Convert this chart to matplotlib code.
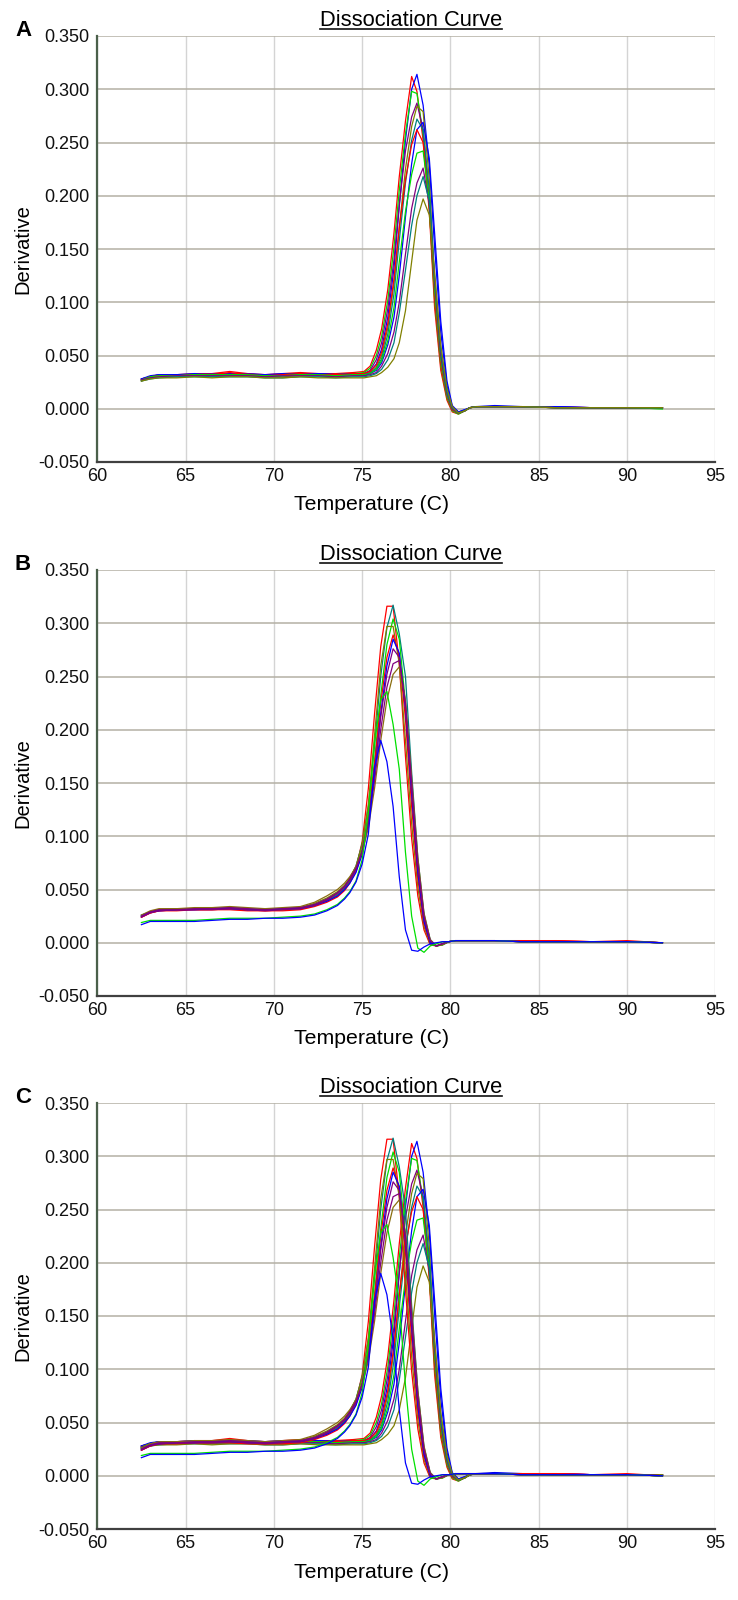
import matplotlib
matplotlib.use("Agg")
import matplotlib.pyplot as plt
from matplotlib.lines import Line2D
from matplotlib.transforms import offset_copy

plt.rcParams['font.family'] = ['Liberation Sans', 'DejaVu Sans']

# ---- panel A: melt curves, shared temperature grid (C)
temp_a = [62.5, 63.0, 63.5, 64.5, 65.5, 66.5, 67.5, 68.5, 69.5, 70.5, 71.5, 72.5, 73.5, 74.5,
          75.1, 75.45, 75.8, 76.1, 76.45, 76.8, 77.1, 77.45, 77.8, 78.1, 78.45, 78.8, 79.1, 79.45,
          79.8, 80.1, 80.45, 80.8, 81.1, 81.5,
          82.5, 84.0, 86.0, 88.0, 90.0, 92.0]

a_red1 = [0.028, 0.030, 0.032, 0.032, 0.033, 0.033, 0.035, 0.033, 0.032, 0.033, 0.034, 0.033, 0.033, 0.034,
          0.035, 0.040, 0.055, 0.075, 0.112, 0.165, 0.218, 0.270, 0.312, 0.298, 0.252, 0.185, 0.095, 0.036,
          0.008, -0.003, -0.005, -0.002, 0.001, 0.002,
          0.002, 0.002, 0.002, 0.001, 0.001, 0.001]
a_blue1 = [0.028, 0.031, 0.032, 0.032, 0.033, 0.032, 0.033, 0.033, 0.032, 0.033, 0.033, 0.033, 0.032, 0.033,
           0.033, 0.035, 0.042, 0.056, 0.086, 0.132, 0.190, 0.252, 0.300, 0.314, 0.285, 0.228, 0.152, 0.072,
           0.022, 0.002, -0.003, -0.001, 0.001, 0.002,
           0.003, 0.002, 0.002, 0.001, 0.001, 0.001]
a_green1 = [0.027, 0.030, 0.031, 0.031, 0.032, 0.032, 0.033, 0.032, 0.031, 0.032, 0.033, 0.032, 0.032, 0.033,
            0.034, 0.038, 0.050, 0.068, 0.102, 0.152, 0.205, 0.258, 0.298, 0.296, 0.258, 0.190, 0.102, 0.040,
            0.010, -0.002, -0.005, -0.002, 0.001, 0.002,
            0.002, 0.002, 0.001, 0.001, 0.001, 0.000]
a_purple1 = [0.027, 0.030, 0.031, 0.032, 0.032, 0.033, 0.033, 0.033, 0.031, 0.032, 0.033, 0.032, 0.032, 0.033,
             0.033, 0.036, 0.046, 0.062, 0.094, 0.140, 0.192, 0.242, 0.274, 0.287, 0.262, 0.195, 0.108, 0.044,
             0.012, -0.001, -0.004, -0.002, 0.001, 0.002,
             0.002, 0.002, 0.001, 0.001, 0.001, 0.001]
a_olive1 = [0.026, 0.029, 0.030, 0.030, 0.031, 0.030, 0.031, 0.031, 0.030, 0.030, 0.031, 0.031, 0.030, 0.031,
            0.031, 0.033, 0.039, 0.050, 0.076, 0.118, 0.170, 0.225, 0.265, 0.284, 0.279, 0.215, 0.120, 0.050,
            0.014, 0.000, -0.004, -0.002, 0.001, 0.002,
            0.002, 0.002, 0.001, 0.001, 0.001, 0.001]
a_teal1 = [0.027, 0.029, 0.030, 0.031, 0.031, 0.031, 0.032, 0.031, 0.030, 0.031, 0.032, 0.031, 0.031, 0.032,
           0.032, 0.034, 0.038, 0.047, 0.070, 0.108, 0.158, 0.212, 0.252, 0.272, 0.262, 0.205, 0.118, 0.048,
           0.013, 0.000, -0.004, -0.002, 0.001, 0.002,
           0.002, 0.002, 0.001, 0.001, 0.001, 0.001]
a_blue2 = [0.028, 0.030, 0.032, 0.032, 0.032, 0.032, 0.033, 0.032, 0.032, 0.032, 0.033, 0.033, 0.032, 0.033,
           0.032, 0.033, 0.036, 0.043, 0.060, 0.086, 0.125, 0.180, 0.230, 0.262, 0.269, 0.235, 0.165, 0.082,
           0.026, 0.003, -0.003, -0.001, 0.001, 0.002,
           0.002, 0.002, 0.002, 0.001, 0.001, 0.001]
a_red2 = [0.027, 0.030, 0.031, 0.031, 0.032, 0.032, 0.034, 0.032, 0.031, 0.032, 0.033, 0.032, 0.032, 0.033,
          0.033, 0.035, 0.041, 0.053, 0.080, 0.122, 0.170, 0.215, 0.248, 0.262, 0.250, 0.190, 0.105, 0.042,
          0.011, -0.001, -0.004, -0.002, 0.001, 0.002,
          0.002, 0.002, 0.001, 0.001, 0.001, 0.001]
a_green2 = [0.027, 0.030, 0.031, 0.031, 0.032, 0.032, 0.032, 0.032, 0.031, 0.031, 0.032, 0.032, 0.031, 0.032,
            0.032, 0.033, 0.037, 0.045, 0.064, 0.095, 0.138, 0.185, 0.220, 0.240, 0.242, 0.195, 0.112, 0.046,
            0.012, 0.000, -0.004, -0.002, 0.001, 0.002,
            0.002, 0.002, 0.001, 0.001, 0.001, 0.000]
a_purple2 = [0.027, 0.029, 0.030, 0.031, 0.031, 0.031, 0.031, 0.031, 0.030, 0.031, 0.031, 0.031, 0.030, 0.031,
             0.031, 0.032, 0.034, 0.040, 0.052, 0.072, 0.100, 0.145, 0.188, 0.212, 0.226, 0.192, 0.120, 0.050,
             0.014, 0.000, -0.004, -0.002, 0.001, 0.002,
             0.002, 0.002, 0.001, 0.001, 0.001, 0.001]
a_teal2 = [0.026, 0.028, 0.029, 0.030, 0.030, 0.030, 0.030, 0.030, 0.029, 0.029, 0.030, 0.030, 0.029, 0.030,
           0.030, 0.031, 0.033, 0.037, 0.046, 0.062, 0.090, 0.130, 0.172, 0.200, 0.218, 0.195, 0.126, 0.055,
           0.016, 0.001, -0.004, -0.002, 0.001, 0.002,
           0.002, 0.002, 0.001, 0.001, 0.001, 0.001]
a_olive2 = [0.026, 0.028, 0.029, 0.029, 0.030, 0.029, 0.030, 0.030, 0.029, 0.029, 0.030, 0.029, 0.029, 0.029,
            0.029, 0.030, 0.031, 0.034, 0.039, 0.047, 0.062, 0.092, 0.138, 0.177, 0.197, 0.182, 0.128, 0.060,
            0.019, 0.002, -0.004, -0.002, 0.001, 0.002,
            0.002, 0.002, 0.001, 0.001, 0.001, 0.001]

# ---- panel B
temp_b = [62.5, 63.0, 63.5, 64.5, 65.5, 66.5, 67.5, 68.5, 69.5, 70.5, 71.5,
          72.3, 73.0, 73.6, 74.0, 74.3, 74.65, 75.0, 75.35, 75.7, 76.05, 76.4, 76.75, 77.1, 77.45,
          77.8, 78.15, 78.5, 78.85, 79.2, 79.55, 79.9, 80.3, 81.0,
          82.5, 84.0, 86.0, 88.0, 90.0, 92.0]

b_red1 = [0.024, 0.028, 0.030, 0.031, 0.031, 0.031, 0.032, 0.031, 0.030, 0.031, 0.032,
          0.035, 0.039, 0.044, 0.050, 0.057, 0.070, 0.095, 0.145, 0.215, 0.278, 0.316, 0.316, 0.262, 0.175,
          0.098, 0.044, 0.012, -0.002, -0.003, -0.001, 0.001, 0.002, 0.002,
          0.002, 0.001, 0.002, 0.001, 0.001, 0.000]
b_teal1 = [0.026, 0.029, 0.031, 0.032, 0.032, 0.032, 0.033, 0.032, 0.031, 0.032, 0.033,
           0.036, 0.041, 0.047, 0.053, 0.060, 0.072, 0.093, 0.128, 0.185, 0.250, 0.296, 0.317, 0.290, 0.250,
           0.160, 0.080, 0.027, 0.003, -0.003, -0.002, 0.001, 0.002, 0.002,
           0.002, 0.001, 0.001, 0.001, 0.001, 0.000]
b_green1 = [0.025, 0.029, 0.031, 0.031, 0.032, 0.032, 0.032, 0.031, 0.031, 0.031, 0.032,
            0.035, 0.040, 0.045, 0.051, 0.058, 0.069, 0.088, 0.120, 0.170, 0.232, 0.280, 0.304, 0.285, 0.225,
            0.140, 0.068, 0.022, 0.001, -0.003, -0.002, 0.001, 0.002, 0.002,
            0.002, 0.002, 0.001, 0.001, 0.001, 0.000]
b_olive1 = [0.025, 0.029, 0.031, 0.032, 0.032, 0.032, 0.033, 0.032, 0.031, 0.032, 0.033,
            0.037, 0.042, 0.048, 0.054, 0.061, 0.072, 0.092, 0.130, 0.195, 0.260, 0.297, 0.297, 0.262, 0.190,
            0.112, 0.052, 0.015, -0.001, -0.003, -0.001, 0.001, 0.002, 0.002,
            0.002, 0.001, 0.001, 0.001, 0.001, 0.000]
b_red2 = [0.024, 0.028, 0.030, 0.030, 0.031, 0.031, 0.031, 0.030, 0.030, 0.030, 0.031,
          0.034, 0.038, 0.043, 0.049, 0.056, 0.067, 0.085, 0.118, 0.168, 0.225, 0.268, 0.289, 0.270, 0.210,
          0.128, 0.060, 0.018, 0.000, -0.003, -0.001, 0.001, 0.002, 0.002,
          0.002, 0.002, 0.002, 0.001, 0.002, 0.000]
b_blue1 = [0.025, 0.029, 0.030, 0.031, 0.031, 0.032, 0.032, 0.031, 0.031, 0.032, 0.032,
           0.035, 0.039, 0.044, 0.050, 0.056, 0.066, 0.083, 0.112, 0.158, 0.215, 0.260, 0.285, 0.272, 0.220,
           0.140, 0.066, 0.020, 0.000, -0.003, -0.001, 0.001, 0.002, 0.002,
           0.002, 0.001, 0.001, 0.001, 0.001, 0.000]
b_purple1 = [0.024, 0.028, 0.030, 0.031, 0.031, 0.031, 0.032, 0.031, 0.030, 0.031, 0.032,
             0.035, 0.040, 0.046, 0.052, 0.059, 0.069, 0.086, 0.115, 0.160, 0.212, 0.252, 0.276, 0.268, 0.222,
             0.145, 0.072, 0.024, 0.002, -0.003, -0.001, 0.001, 0.002, 0.002,
             0.002, 0.001, 0.001, 0.001, 0.001, 0.000]
b_brown = [0.026, 0.030, 0.032, 0.032, 0.033, 0.033, 0.034, 0.033, 0.032, 0.033, 0.034,
           0.038, 0.044, 0.050, 0.056, 0.062, 0.071, 0.085, 0.108, 0.145, 0.190, 0.228, 0.252, 0.259, 0.228,
           0.155, 0.080, 0.028, 0.003, -0.003, -0.002, 0.001, 0.002, 0.002,
           0.002, 0.001, 0.001, 0.001, 0.001, 0.000]
b_purple2 = [0.025, 0.029, 0.031, 0.031, 0.032, 0.032, 0.033, 0.032, 0.031, 0.032, 0.033,
             0.036, 0.041, 0.047, 0.053, 0.060, 0.070, 0.086, 0.112, 0.152, 0.200, 0.240, 0.262, 0.265, 0.225,
             0.150, 0.075, 0.025, 0.002, -0.003, -0.001, 0.001, 0.002, 0.002,
             0.002, 0.001, 0.001, 0.001, 0.001, 0.000]
b_green2 = [0.019, 0.021, 0.021, 0.021, 0.021, 0.022, 0.023, 0.023, 0.023, 0.024, 0.025,
            0.027, 0.031, 0.036, 0.042, 0.048, 0.058, 0.078, 0.122, 0.188, 0.228, 0.236, 0.205, 0.163, 0.085,
            0.025, -0.005, -0.009, -0.003, -0.001, 0.001, 0.001, 0.002, 0.002,
            0.002, 0.001, 0.001, 0.001, 0.001, 0.000]
b_blue2 = [0.017, 0.020, 0.020, 0.020, 0.020, 0.021, 0.022, 0.022, 0.023, 0.023, 0.024,
           0.026, 0.030, 0.035, 0.041, 0.047, 0.057, 0.074, 0.102, 0.165, 0.190, 0.170, 0.128, 0.062, 0.012,
           -0.007, -0.008, -0.004, -0.001, 0.000, 0.001, 0.001, 0.002, 0.002,
           0.002, 0.001, 0.001, 0.001, 0.001, 0.000]

x_ticks = [60, 65, 70, 75, 80, 85, 90, 95]
y_ticks = [-0.05, 0.0, 0.05, 0.10, 0.15, 0.20, 0.25, 0.30, 0.35]
y_tick_labels = ['-0.050', '0.000', '0.050', '0.100', '0.150', '0.200', '0.250', '0.300', '0.350']
panel_letters = ['A', 'B', 'C']
title_text = 'Dissociation Curve'
x_label = 'Temperature (C)'
y_label = 'Derivative'

RED, GREEN, BLUE = '#ff0000', '#00e000', '#0000ff'
PURPLE, TEAL, OLIVE, BROWN = '#800080', '#008080', '#808000', '#8a6e10'

curves_a = [(a_red1, RED), (a_blue1, BLUE), (a_green1, GREEN), (a_purple1, PURPLE),
            (a_olive1, OLIVE), (a_teal1, TEAL), (a_blue2, BLUE), (a_red2, RED),
            (a_green2, GREEN), (a_purple2, PURPLE), (a_teal2, TEAL), (a_olive2, OLIVE)]
curves_b = [(b_red1, RED), (b_teal1, TEAL), (b_green1, GREEN), (b_olive1, OLIVE),
            (b_red2, RED), (b_blue1, BLUE), (b_purple1, PURPLE), (b_brown, BROWN),
            (b_purple2, PURPLE), (b_green2, GREEN), (b_blue2, BLUE)]


def draw_panel(fig, ax, series, letter):
    for temps, vals, color in series:
        ax.plot(temps, vals, color=color, lw=0.9)

    ax.set_xlim(60, 95)
    ax.set_ylim(-0.05, 0.35)
    ax.set_xticks(x_ticks)
    ax.set_yticks(y_ticks)
    ax.set_yticklabels(y_tick_labels)
    ax.tick_params(axis='both', length=0, labelsize=13, colors='#111111')
    ax.tick_params(axis='x', pad=4.5)
    ax.tick_params(axis='y', pad=5.5)

    # grid: horizontal lines darker than vertical ones
    ax.set_axisbelow(True)
    ax.yaxis.grid(True, color='#b4b0a4', lw=1.1)
    ax.xaxis.grid(True, color='#d4d4d4', lw=1.0)

    for side in ['top', 'right']:
        ax.spines[side].set_visible(False)
    ax.spines['left'].set_color('#4b604b')
    ax.spines['left'].set_linewidth(1.6)
    ax.spines['bottom'].set_color('#404040')
    ax.spines['bottom'].set_linewidth(1.6)

    pos = ax.get_position()
    W, H = fig.bbox.width, fig.bbox.height

    # title (underlined later) and panel letter
    ttl = ax.text(0.5, 1.0, title_text, ha='center', va='baseline', fontsize=15.75,
                  transform=offset_copy(ax.transAxes, fig=fig, x=5, y=10, units='dots'))
    fig.text(15 / W, pos.y1, letter, ha='left', va='baseline', fontsize=16, fontweight='bold')

    # axis labels
    fig.text(23 / W, (pos.y0 + pos.y1) / 2, y_label, rotation=90, ha='center', va='center', fontsize=14.5)
    fig.text(372 / W, pos.y0 - 43 / H, x_label, ha='center', va='center', fontsize=15.3)
    return ttl


def main():
    fig = plt.figure(figsize=(7.38, 16), dpi=100)
    left, width, height = 0.1318, 0.8376, 0.26625
    bottoms = [0.71125, 0.3775, 0.044375]
    panels = [[(temp_a, v, c) for v, c in curves_a],
              [(temp_b, v, c) for v, c in curves_b],
              [(temp_a, v, c) for v, c in curves_a] + [(temp_b, v, c) for v, c in curves_b]]

    titles = []
    for bottom, series, letter in zip(bottoms, panels, panel_letters):
        ax = fig.add_axes([left, bottom, width, height])
        titles.append((ax, draw_panel(fig, ax, series, letter)))

    # underline each title
    fig.canvas.draw()
    W, H = fig.bbox.width, fig.bbox.height
    for ax, ttl in titles:
        bb = ttl.get_window_extent()
        y = (ax.get_window_extent().y1 + 7.5) / H
        fig.add_artist(Line2D([bb.x0 / W, bb.x1 / W], [y, y], color='#111111', lw=1.2,
                              transform=fig.transFigure))

    fig.savefig('out.png', dpi=100)


if __name__ == "__main__":
    main()
